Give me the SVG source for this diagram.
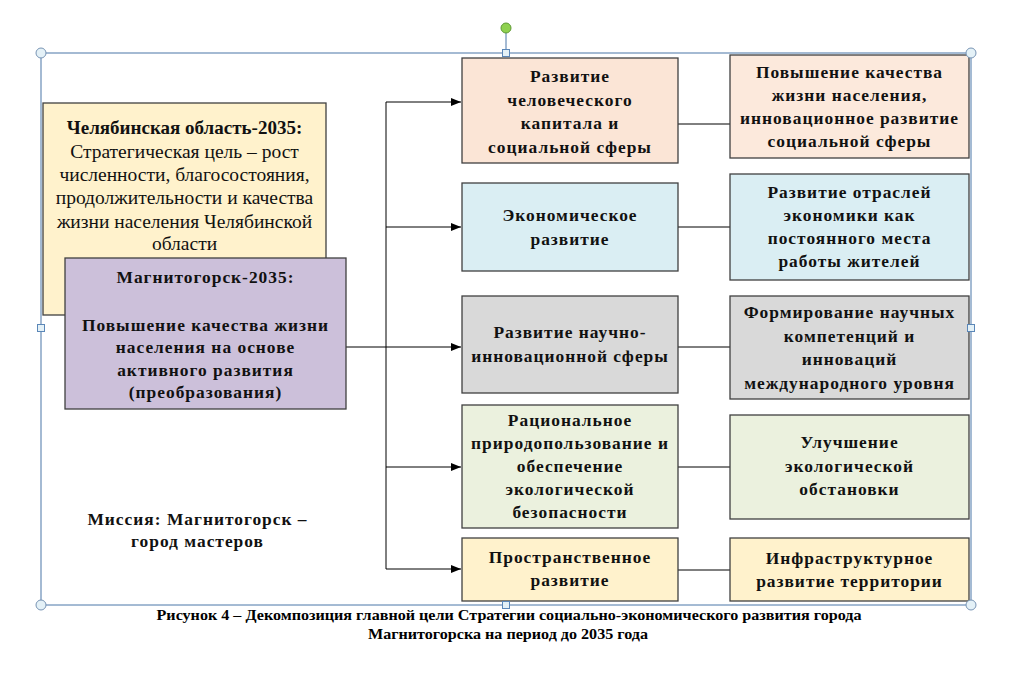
<svg xmlns="http://www.w3.org/2000/svg" width="1014" height="681" viewBox="0 0 1014 681">
<style>
.box{stroke:#404040;stroke-width:1.3}
.t{font-family:"Liberation Serif","Times New Roman",serif;font-weight:bold;font-size:17.4px;letter-spacing:1px;fill:#111;text-anchor:middle}
.r{font-family:"Liberation Serif","Times New Roman",serif;font-size:19.5px;fill:#111;text-anchor:middle}
.rb{font-family:"Liberation Serif","Times New Roman",serif;font-weight:bold;font-size:19px;fill:#111;text-anchor:middle}
.cap{font-family:"Liberation Serif","Times New Roman",serif;font-weight:bold;font-size:14px;fill:#000;text-anchor:middle}
.ln{stroke:#000;stroke-width:1;fill:none}
.sel{stroke:#4a76a8;stroke-width:1;fill:none}
.hc{fill:#e4f1f7;stroke:#7894b4;stroke-width:1}
.hs{fill:#e4f1f7;stroke:#5b87b8;stroke-width:1}
</style>
<defs>
<marker id="arr" viewBox="0 0 10 8" refX="10" refY="4" markerWidth="10" markerHeight="8" markerUnits="userSpaceOnUse" orient="auto">
<path d="M0,0 L10,4 L0,8 Z" fill="#000"/>
</marker>
</defs>
<rect width="1014" height="681" fill="#fff"/>

<g id="selection-frame">
<rect class="sel" x="41" y="53" width="930" height="552"/>
<line class="sel" x1="506" y1="28" x2="506" y2="50"/>
</g>

<g id="connectors">
<line class="ln" x1="346" y1="347" x2="386" y2="347"/>
<line class="ln" x1="386" y1="102" x2="386" y2="569"/>
<line class="ln" x1="386" y1="102" x2="461" y2="102" marker-end="url(#arr)"/>
<line class="ln" x1="386" y1="227" x2="461" y2="227" marker-end="url(#arr)"/>
<line class="ln" x1="386" y1="347" x2="461" y2="347" marker-end="url(#arr)"/>
<line class="ln" x1="386" y1="467" x2="461" y2="467" marker-end="url(#arr)"/>
<line class="ln" x1="386" y1="569" x2="461" y2="569" marker-end="url(#arr)"/>
<line class="ln" x1="678" y1="124" x2="730" y2="124"/>
<line class="ln" x1="678" y1="227" x2="730" y2="227"/>
<line class="ln" x1="678" y1="347" x2="730" y2="347"/>
<line class="ln" x1="678" y1="467" x2="730" y2="467"/>
<line class="ln" x1="678" y1="570" x2="730" y2="570"/>
</g>

<g id="chelyabinsk">
<rect class="box" x="43" y="103" width="283" height="212" fill="#fff2cc"/>
<text class="rb" x="184.5" y="134">Челябинская область-2035:</text>
<text class="r" x="184.5" y="158">Стратегическая цель – рост</text>
<text class="r" x="184.5" y="181">численности, благосостояния,</text>
<text class="r" x="184.5" y="204">продолжительности и качества</text>
<text class="r" x="184.5" y="228">жизни населения Челябинской</text>
<text class="r" x="184.5" y="250">области</text>
</g>

<g id="magnitogorsk">
<rect class="box" x="65" y="258" width="281" height="151" fill="#ccc0da"/>
<text class="t" x="205.5" y="283">Магнитогорск-2035:</text>
<text class="t" x="205.5" y="331">Повышение качества жизни</text>
<text class="t" x="205.5" y="353">населения на основе</text>
<text class="t" x="205.5" y="376">активного развития</text>
<text class="t" x="205.5" y="398">(преобразования)</text>
</g>

<g id="mission">
<text class="t" x="197.5" y="525">Миссия: Магнитогорск –</text>
<text class="t" x="197.5" y="547">город мастеров</text>
</g>

<g id="m1">
<rect class="box" x="462" y="58" width="216" height="105" fill="#fbe5d6"/>
<text class="t" x="570" y="82">Развитие</text>
<text class="t" x="570" y="106">человеческого</text>
<text class="t" x="570" y="129">капитала и</text>
<text class="t" x="570" y="153">социальной сферы</text>
</g>
<g id="m2">
<rect class="box" x="462" y="183" width="216" height="88" fill="#daeef3"/>
<text class="t" x="570" y="221">Экономическое</text>
<text class="t" x="570" y="245">развитие</text>
</g>
<g id="m3">
<rect class="box" x="462" y="296" width="216" height="97" fill="#d9d9d9"/>
<text class="t" x="570" y="338">Развитие научно-</text>
<text class="t" x="570" y="362">инновационной сферы</text>
</g>
<g id="m4">
<rect class="box" x="462" y="405" width="216" height="123" fill="#ebf1de"/>
<text class="t" x="570" y="426">Рациональное</text>
<text class="t" x="570" y="449">природопользование и</text>
<text class="t" x="570" y="472">обеспечение</text>
<text class="t" x="570" y="495">экологической</text>
<text class="t" x="570" y="518">безопасности</text>
</g>
<g id="m5">
<rect class="box" x="462" y="538" width="216" height="63" fill="#fff2cc"/>
<text class="t" x="570" y="563">Пространственное</text>
<text class="t" x="570" y="586">развитие</text>
</g>

<g id="r1">
<rect class="box" x="730" y="55" width="239" height="103" fill="#fce9dc"/>
<text class="t" x="849.5" y="78">Повышение качества</text>
<text class="t" x="849.5" y="101">жизни населения,</text>
<text class="t" x="849.5" y="124">инновационное развитие</text>
<text class="t" x="849.5" y="147">социальной сферы</text>
</g>
<g id="r2">
<rect class="box" x="730" y="174" width="239" height="106" fill="#daeef3"/>
<text class="t" x="849.5" y="198">Развитие отраслей</text>
<text class="t" x="849.5" y="221">экономики как</text>
<text class="t" x="849.5" y="244">постоянного места</text>
<text class="t" x="849.5" y="267">работы жителей</text>
</g>
<g id="r3">
<rect class="box" x="730" y="296" width="239" height="103" fill="#d9d9d9"/>
<text class="t" x="849.5" y="318">Формирование научных</text>
<text class="t" x="849.5" y="342">компетенций и</text>
<text class="t" x="849.5" y="365">инноваций</text>
<text class="t" x="849.5" y="389">международного уровня</text>
</g>
<g id="r4">
<rect class="box" x="730" y="415" width="239" height="104" fill="#ebf1de"/>
<text class="t" x="849.5" y="448">Улучшение</text>
<text class="t" x="849.5" y="472">экологической</text>
<text class="t" x="849.5" y="495">обстановки</text>
</g>
<g id="r5">
<rect class="box" x="730" y="538" width="239" height="63" fill="#fff2cc"/>
<text class="t" x="849.5" y="564">Инфраструктурное</text>
<text class="t" x="849.5" y="587">развитие территории</text>
</g>

<g id="handles">
<circle class="hc" cx="41" cy="53" r="5"/>
<circle class="hc" cx="971" cy="53" r="5"/>
<circle class="hc" cx="41" cy="605" r="5"/>
<circle class="hc" cx="971" cy="605" r="5"/>
<rect class="hs" x="502.5" y="49.5" width="7" height="7"/>
<rect class="hs" x="502.5" y="601.5" width="7" height="7"/>
<rect class="hs" x="37.5" y="324.5" width="7" height="7"/>
<rect class="hs" x="967.5" y="324.5" width="7" height="7"/>
<circle cx="506" cy="28" r="5" fill="#8fd14f" stroke="#5f9a35" stroke-width="1"/>
</g>

<g id="caption">
<text class="cap" x="509" y="620" textLength="705" lengthAdjust="spacingAndGlyphs">Рисунок 4 – Декомпозиция главной цели Стратегии социально-экономического развития города</text>
<text class="cap" x="508" y="639" textLength="280" lengthAdjust="spacingAndGlyphs">Магнитогорска на период до 2035 года</text>
</g>
</svg>
